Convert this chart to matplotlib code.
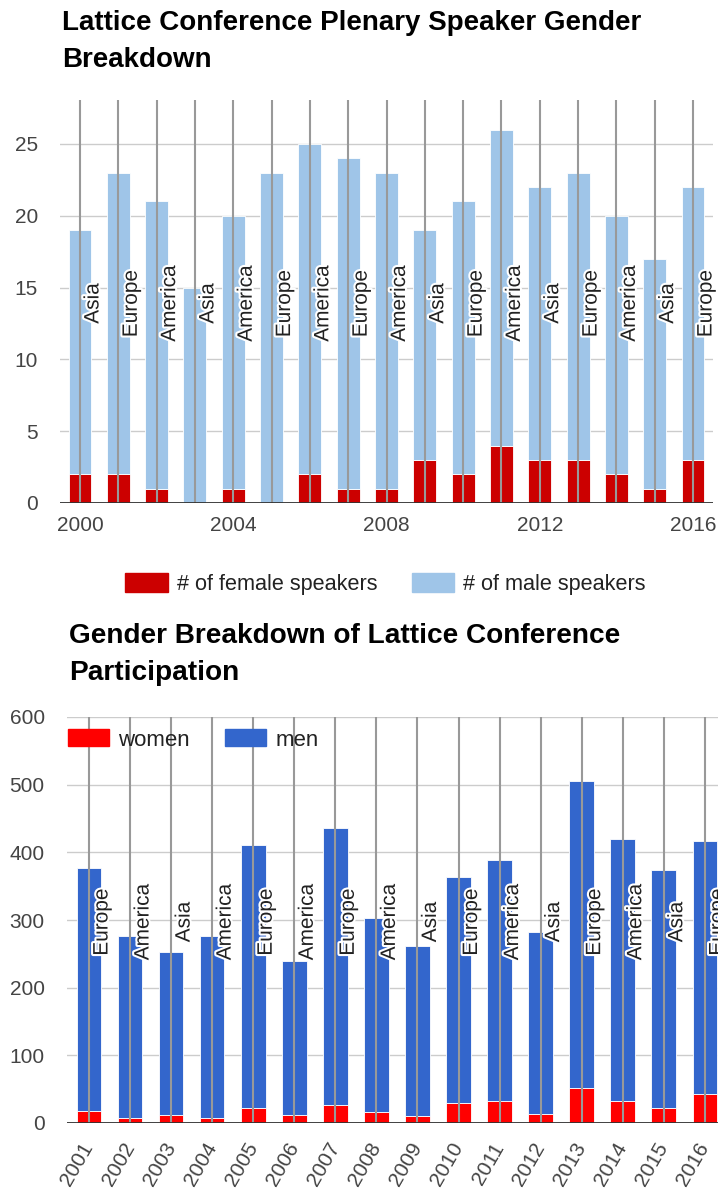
import matplotlib.pyplot as plt
import matplotlib.patheffects as pe
from matplotlib.patches import Patch

plt.rcParams['font.family'] = ['Liberation Sans', 'DejaVu Sans']

# Plenary speakers per year
plenary_years = [2000, 2001, 2002, 2003, 2004, 2005, 2006, 2007, 2008,
                 2009, 2010, 2011, 2012, 2013, 2014, 2015, 2016]
plenary_female = [2, 2, 1, 0, 1, 0, 2, 1, 1, 3, 2, 4, 3, 3, 2, 1, 3]
plenary_male = [17, 21, 20, 15, 19, 23, 23, 23, 22, 16, 19, 22, 19, 20, 18, 16, 19]
plenary_region = ['Asia', 'Europe', 'America', 'Asia', 'America', 'Europe', 'America',
                  'Europe', 'America', 'Asia', 'Europe', 'America', 'Asia', 'Europe',
                  'America', 'Asia', 'Europe']

# Conference participation per year
part_years = [2001, 2002, 2003, 2004, 2005, 2006, 2007, 2008,
              2009, 2010, 2011, 2012, 2013, 2014, 2015, 2016]
part_women = [17, 7, 12, 7, 22, 12, 27, 16, 11, 30, 33, 14, 52, 33, 22, 43]
part_men = [360, 270, 241, 270, 389, 228, 409, 287, 250, 334, 355, 268, 454, 386, 352, 374]
part_region = ['Europe', 'America', 'Asia', 'America', 'Europe', 'America', 'Europe',
               'America', 'Asia', 'Europe', 'America', 'Asia', 'Europe', 'America',
               'Asia', 'Europe']

W, H = 718, 1193
fig = plt.figure(figsize=(W / 100, H / 100), dpi=100)


def box(left, top, right, bottom):
    return [left / W, 1 - bottom / H, (right - left) / W, (bottom - top) / H]


def style_axes(ax, years, regions, ylim, yticks):
    ax.set_ylim(0, ylim)
    ax.set_yticks(yticks)
    for s in ax.spines.values():
        s.set_visible(False)
    ax.yaxis.grid(True, color='#cccccc', lw=1)
    ax.set_axisbelow(True)
    ax.tick_params(length=0, labelsize=15, colors='#444444')
    ax.tick_params(axis='y', pad=16)
    ax.axhline(0, color='#333333', lw=1.3, zorder=5)
    ax.vlines(years, 0, 1, transform=ax.get_xaxis_transform(),
              color='#999999', lw=1.5, zorder=3)
    for x, r in zip(years, regions):
        ax.annotate(r, (x, 0.495), xycoords=('data', 'axes fraction'),
                    xytext=(2.5, 0), textcoords='offset points',
                    rotation=90, ha='left', va='center', fontsize=15,
                    color='#222222', zorder=6, annotation_clip=False,
                    path_effects=[pe.withStroke(linewidth=3, foreground='white')])


# ---- top chart ----
ax1 = fig.add_axes(box(60, 100, 713, 503))
ax1.bar(plenary_years, plenary_female, width=0.6, color='#cc0000',
        edgecolor='white', lw=0.6, zorder=2)
ax1.bar(plenary_years, plenary_male, width=0.6, bottom=plenary_female,
        color='#9fc5e8', edgecolor='white', lw=0.6, zorder=2)
ax1.set_xlim(2000 - 0.522, 2016 + 0.522)
ax1.set_xticks([2000, 2004, 2008, 2012, 2016])
ax1.tick_params(axis='x', pad=9.5)
style_axes(ax1, plenary_years, plenary_region, 28.06, [0, 5, 10, 15, 20, 25])

fig.text(62 / W, 1 - 30 / H, 'Lattice Conference Plenary Speaker Gender',
         fontsize=20, fontweight='bold', va='baseline', color='#000000')
fig.text(62 / W, 1 - 67 / H, 'Breakdown',
         fontsize=20, fontweight='bold', va='baseline', color='#000000')

fig.legend(handles=[Patch(color='#cc0000', label='# of female speakers'),
                    Patch(color='#9fc5e8', label='# of male speakers')],
           loc='center', bbox_to_anchor=(385.5 / W, 1 - 584 / H), ncol=2,
           frameon=False, fontsize=15.6, handlelength=1.95, handleheight=1.0,
           handletextpad=0.42, columnspacing=1.6, labelcolor='#222222',
           borderpad=0)

# ---- bottom chart ----
ax2 = fig.add_axes(box(67, 717, 718, 1123))
ax2.bar(part_years, part_women, width=0.6, color='#ff0000',
        edgecolor='white', lw=0.6, zorder=2)
ax2.bar(part_years, part_men, width=0.6, bottom=part_women,
        color='#3366cc', edgecolor='white', lw=0.6, zorder=2)
ax2.set_xlim(2001 - 0.536, 2016 + 0.32)
ax2.set_xticks(part_years)
ax2.set_xticklabels([str(y) for y in part_years], rotation=60,
                    ha='right', va='center', rotation_mode='anchor')
ax2.tick_params(axis='x', pad=15)
style_axes(ax2, part_years, part_region, 600, [0, 100, 200, 300, 400, 500, 600])

fig.text(69 / W, 1 - 643 / H, 'Gender Breakdown of Lattice Conference',
         fontsize=20.2, fontweight='bold', va='baseline', color='#000000')
fig.text(69 / W, 1 - 680 / H, 'Participation',
         fontsize=20.2, fontweight='bold', va='baseline', color='#000000')

fig.legend(handles=[Patch(color='#ff0000', label='women'),
                    Patch(color='#3366cc', label='men')],
           loc='center left', bbox_to_anchor=(68 / W, 1 - 740 / H), ncol=2,
           frameon=False, fontsize=16, handlelength=1.85, handleheight=0.8,
           handletextpad=0.4, columnspacing=1.6, labelcolor='#222222',
           borderpad=0, borderaxespad=0)

fig.savefig('out.png', dpi=100)
